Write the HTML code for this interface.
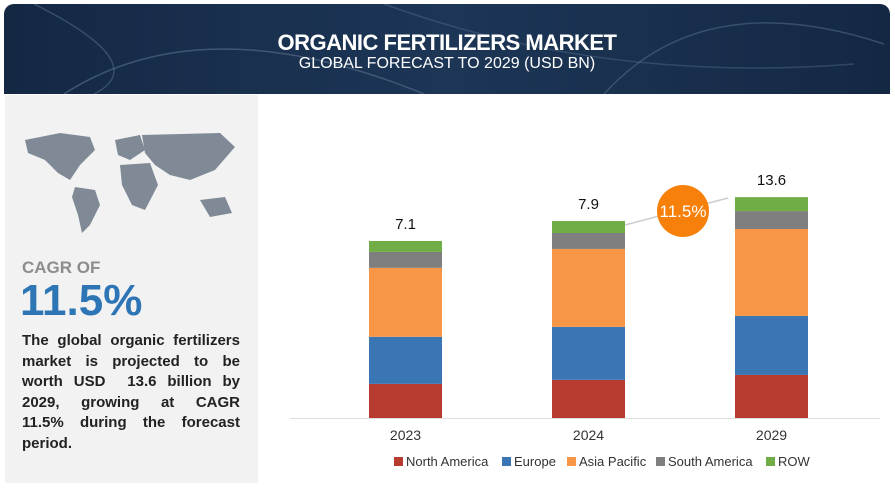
<!DOCTYPE html>
<html><head><meta charset="utf-8"><style>
body{margin:0;width:895px;height:492px;background:#fff;position:relative;overflow:hidden;font-family:"Liberation Sans",sans-serif}
.hdr{position:absolute;left:4px;top:4px;width:886px;height:90px;border-radius:10px 10px 0 0;background:linear-gradient(90deg,#142844,#1d3656 50%,#142844);overflow:hidden}
.t1{position:absolute;top:26px;width:100%;text-align:center;color:#fff;font:bold 22px "Liberation Sans Narrow","Liberation Sans",sans-serif;letter-spacing:-0.5px}
.t2{position:absolute;top:51px;width:100%;text-align:center;color:#fff;font:16px "Liberation Sans Narrow","Liberation Sans",sans-serif}
.left{position:absolute;left:5px;top:95px;width:253px;height:388px;background:#f2f2f2}
.cagr{position:absolute;left:22px;top:258px;color:#8c8c8c;font:bold 17px "Liberation Sans",sans-serif}
.big{position:absolute;left:20px;top:276px;color:#2e75b6;font:bold 44px "Liberation Sans",sans-serif}
.para{position:absolute;left:22px;top:331px;width:218px;font:bold 15px/20.6px "Liberation Sans",sans-serif;color:#222}
.para div{text-align:justify;text-align-last:justify;white-space:nowrap;overflow:visible}
.para div.l{text-align-last:left}
</style></head><body>
<div class="hdr">
<svg width="886" height="90" style="position:absolute;left:0;top:0">
<path d="M60 90 Q200 0 420 90" stroke="#5a7290" fill="none" stroke-width="1.5" opacity=".6"/>
<path d="M30 0 Q150 60 90 90" stroke="#5a7290" fill="none" stroke-width="1.5" opacity=".5"/>
<path d="M600 90 Q700 -20 880 40" stroke="#5a7290" fill="none" stroke-width="1.5" opacity=".5"/>
<path d="M380 0 Q600 80 850 60" stroke="#5a7290" fill="none" stroke-width="1.5" opacity=".4"/>
</svg>
<div class="t1">ORGANIC FERTILIZERS MARKET</div>
<div class="t2">GLOBAL FORECAST TO 2029 (USD BN)</div>
</div>
<div class="left"></div>
<svg style="position:absolute;left:20px;top:125px" width="230" height="115">
<g fill="#7f8a96">
<path d="M5 15 L40 8 L70 12 L75 25 L60 40 L50 55 L38 48 L25 35 L8 28Z"/>
<path d="M55 62 L75 65 L80 80 L70 100 L62 108 L58 90 L52 72Z"/>
<path d="M95 15 L120 10 L125 25 L110 35 L98 30Z"/>
<path d="M100 40 L130 38 L138 60 L125 85 L112 80 L102 60Z"/>
<path d="M122 10 L200 8 L215 22 L195 45 L170 55 L150 50 L135 40 L125 28Z"/>
<path d="M180 75 L205 72 L212 88 L190 92Z"/>
</g></svg>
<div class="cagr">CAGR OF</div>
<div class="big">11.5%</div>
<div class="para">
<div>The global organic fertilizers</div>
<div>market is projected to be</div>
<div>worth USD &nbsp;13.6 billion by</div>
<div>2029, growing at CAGR</div>
<div>11.5% during the forecast</div>
<div class="l">period.</div>
</div>
<svg id="chart" style="position:absolute;left:0;top:0" width="895" height="492"></svg>
<script>
const years=["2023","2024","2029"];
const totals=["7.1","7.9","13.6"];
const seriesNames=["North America","Europe","Asia Pacific","South America","ROW"];
const northAmerica=[1.37,1.53,1.73];
const europe=[1.89,2.13,2.37];
const asiaPacific=[2.77,3.13,3.49];
const southAmerica=[0.64,0.64,0.72];
const row=[0.44,0.48,0.56];
const colors=["#b83b30","#3a76b4","#f79646","#7f7f7f","#71ad47"];
const NS="http://www.w3.org/2000/svg";
const svg=document.getElementById('chart');
const base=418,ppu=24.9,x0=369,step=183,bw=73;
const y=v=>base-v*ppu;
const xs=i=>x0+i*step;
function mk(t,a){const e=document.createElementNS(NS,t);for(const k in a)e.setAttribute(k,a[k]);svg.appendChild(e);return e;}
const ax=mk('line',{x1:290,x2:880,y1:base+0.5,y2:base+0.5,stroke:'#ddd'});


const series=[northAmerica,europe,asiaPacific,southAmerica,row];
years.forEach((yr,i)=>{
 let acc=0;
 series.forEach((s,j)=>{
  const r=mk('rect',{x:xs(i),y:y(acc+s[i]),width:bw,height:s[i]*ppu,fill:colors[j]});
  
  
  acc+=s[i];
 });
 const tl=mk('text',{x:xs(i)+bw/2,y:y(acc)-12,'text-anchor':'middle','font-size':15,'font-family':'Liberation Sans,sans-serif',fill:'#111'});
 tl.textContent=totals[i];
 
 
 const xl=mk('text',{x:xs(i)+bw/2,y:440,'text-anchor':'middle','font-size':14,'font-family':'Liberation Sans,sans-serif',fill:'#333'});
 xl.textContent=yr;
 
 
});
const ar=mk('line',{x1:625,y1:225,x2:728,y2:198,stroke:'#ccc','stroke-width':1.5});


const c=mk('circle',{cx:683,cy:211,r:26,fill:'#f7800a'});


const ct=mk('text',{x:683,y:217,'text-anchor':'middle','font-size':17,'font-family':'Liberation Sans,sans-serif',fill:'#fff'});
ct.textContent='11.5%';


const lx=[394,502,567,656,766];
seriesNames.forEach((n,j)=>{
 const r=mk('rect',{x:lx[j],y:457,width:9,height:9,fill:colors[j]});
 
 
 const t=mk('text',{x:lx[j]+12,y:466,'font-size':13,'font-family':'Liberation Sans,sans-serif',fill:'#333'});
 t.textContent=n;
 
 
});
</script>
</body></html>
